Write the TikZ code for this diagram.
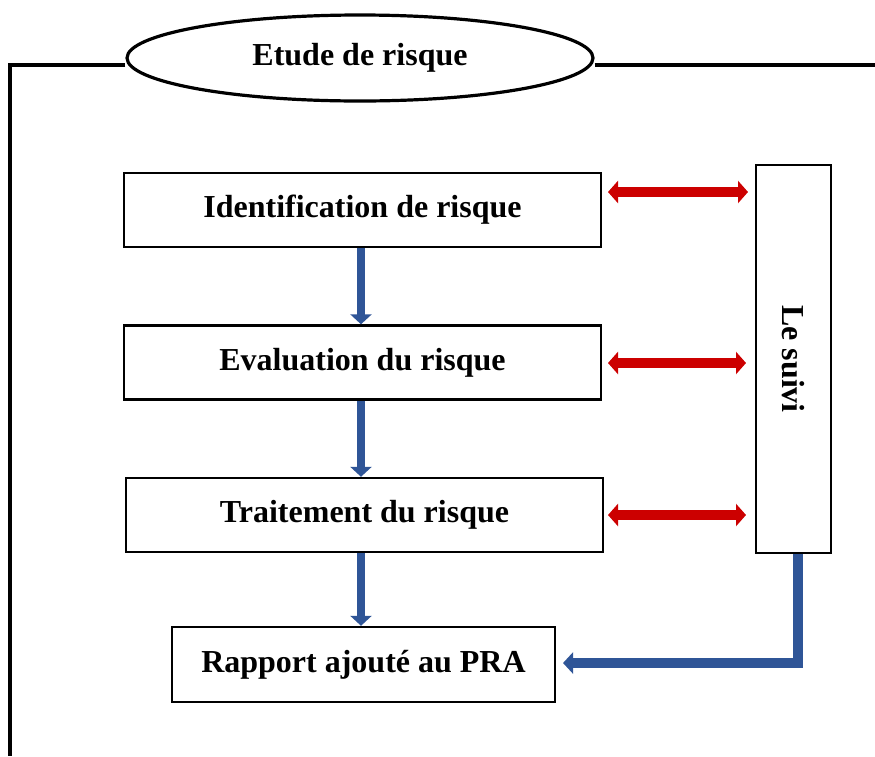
\documentclass[tikz,border=0pt]{standalone}
\usepackage{fontspec}
\setmainfont{Liberation Serif}
\usetikzlibrary{shapes.geometric,arrows.meta}
\definecolor{redarr}{HTML}{CC0000}
\definecolor{bluearr}{HTML}{2F5597}
\begin{document}
\begin{tikzpicture}[x=1pt,y=-1pt,
  txt/.style={font=\fontsize{32}{36}\selectfont\bfseries},
  box/.style={draw=black,line width=2.4pt,minimum width=477pt,minimum height=74pt,inner sep=0pt,txt},
  redarrow/.style={draw=redarr,line width=10pt,{Triangle[length=10pt,width=22pt]}-{Triangle[length=10pt,width=22pt]}},
  bluearrow/.style={draw=bluearr,line width=8pt,-{Triangle[length=10pt,width=21pt]}},
  frame/.style={draw=black,line width=3.2pt}]
\useasboundingbox (0,0) rectangle (875,756);
% frame
\coordinate (fl) at (10,65);
\coordinate (fb) at (10,756);
\coordinate (fr) at (875,65);
\node[ellipse,draw=black,line width=3.2pt,minimum width=466pt,minimum height=86pt,inner sep=0pt,txt] (etude) at (360,58) {Etude de risque};
\draw[frame] (etude.west |- fl) -- (fl) -- (fb);
\draw[frame] (etude.east |- fr) -- (fr);
% boxes
\node[box] (ident) at (362.5,210) {Identification de risque};
\node[box] (eval) at (362.5,362.5) {Evaluation du risque};
\node[box] (trait) at (364.5,515) {Traitement du risque};
\node[box,minimum width=383pt,minimum height=75pt] (rapport) at (363.5,664.5) {Rapport ajouté au PRA};
\node[box,minimum width=75pt,minimum height=388pt] (suivi) at (793.5,359) {};
\node[rotate=-90,txt] at (suivi.center) {Le suivi};
% blue arrows
\draw[bluearrow] (ident.south -| 361,0) -- (eval.north -| 361,0);
\draw[bluearrow] (eval.south -| 361,0) -- (trait.north -| 361,0);
\draw[bluearrow] (trait.south -| 361,0) -- (rapport.north -| 361,0);
\coordinate (corner) at (798,663);
\draw[bluearrow,line width=10pt] (suivi.south -| corner) -- (corner) -- (563,663);
% red arrows
\draw[redarrow] (608,192) -- (748,192);
\draw[redarrow] (608,363) -- (746,363);
\draw[redarrow] (608,515) -- (746,515);
\end{tikzpicture}
\end{document}
